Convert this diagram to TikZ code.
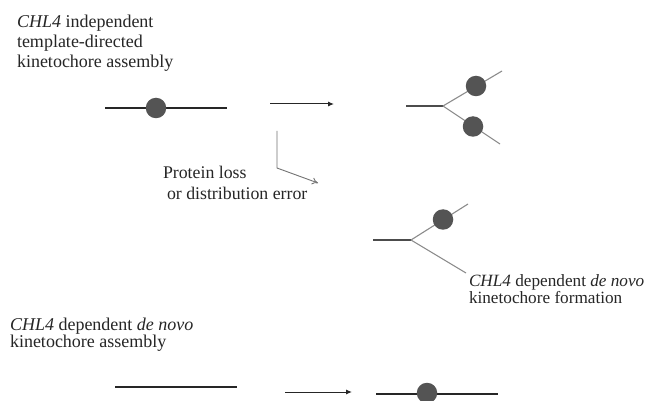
\documentclass[tikz,border=0pt]{standalone}
\usepackage{fontspec}
\setmainfont{Liberation Serif}
\usetikzlibrary{arrows.meta}
\tikzset{
  lbl/.style={inner sep=0pt, outer sep=0pt, anchor=base west, align=left, text=black!85},
  chrom/.style={line width=2.2pt, draw=black!85},
  stem/.style={line width=1.6pt, draw=black!70},
  branch/.style={line width=1.1pt, draw=black!45},
  kin/.style={circle, fill=black!67, draw=none, minimum size=20.5pt, inner sep=0pt},
  reac/.style={line width=1pt, draw=black!85, -{Latex[length=6pt,width=5pt]}},
  bent/.style={line width=0.9pt, draw=black!55, -{To[length=6pt,width=7pt]}}
}
\begin{document}
\begin{tikzpicture}[x=1pt,y=-1pt]
\useasboundingbox (0,0) rectangle (654,401);
\fill[white] (0,0) rectangle (654,401);
% texts (anchor = baseline of last line)
\node[lbl, font=\fontsize{18}{20}\selectfont] (t1) at (17,68) {\textit{CHL4} independent\\template-directed\\kinetochore assembly};
\node[lbl, font=\fontsize{17.8}{21}\selectfont] (t2) at (163,200) {Protein loss\\\hspace*{4pt}or distribution error};
\node[lbl, font=\fontsize{17.2}{16.5}\selectfont] (t3) at (469,303) {\textit{CHL4} dependent \textit{de novo}\\kinetochore formation};
\node[lbl, font=\fontsize{18}{16.5}\selectfont] (t4) at (10,347) {\textit{CHL4} dependent \textit{de novo}\\kinetochore assembly};
% top left chromosome
\coordinate (c1l) at (105,108);
\coordinate (c1r) at (227,108);
\draw[chrom] (c1l) -- (c1r);
\node[kin] (k1) at (156,108) {};
% top arrow
\coordinate (a1s) at (270,104);
\coordinate (a1e) at (334,104);
\draw[reac] (a1s) -- (a1e);
% bent arrow
\coordinate (b1) at (277,131);
\coordinate (b2) at (277,168);
\coordinate (b3) at (318,183);
\draw[bent] (b1) -- (b2) -- (b3);
% top right fork
\coordinate (f1s) at (406,106);
\coordinate (f1j) at (443,106);
\coordinate (f1u) at (502,71);
\coordinate (f1d) at (500,144);
\draw[stem] (f1s) -- (f1j);
\draw[branch] (f1j) -- (f1u);
\draw[branch] (f1j) -- (f1d);
\node[kin] (k2) at (476,86) {};
\node[kin] (k3) at (473,126.5) {};
% middle fork
\coordinate (f2s) at (373,240);
\coordinate (f2j) at (411,240);
\coordinate (f2u) at (468,204);
\coordinate (f2d) at (466,273);
\draw[stem] (f2s) -- (f2j);
\draw[branch] (f2j) -- (f2u);
\draw[branch] (f2j) -- (f2d);
\node[kin] (k4) at (443,219.5) {};
% bottom
\coordinate (c2l) at (115,387);
\coordinate (c2r) at (237,387);
\draw[chrom] (c2l) -- (c2r);
\coordinate (a2s) at (285,392);
\coordinate (a2e) at (352,392);
\draw[reac] (a2s) -- (a2e);
\coordinate (c3l) at (376,394);
\coordinate (c3r) at (498,394);
\draw[chrom] (c3l) -- (c3r);
\node[kin] (k5) at (427,393) {};
\end{tikzpicture}
\end{document}
